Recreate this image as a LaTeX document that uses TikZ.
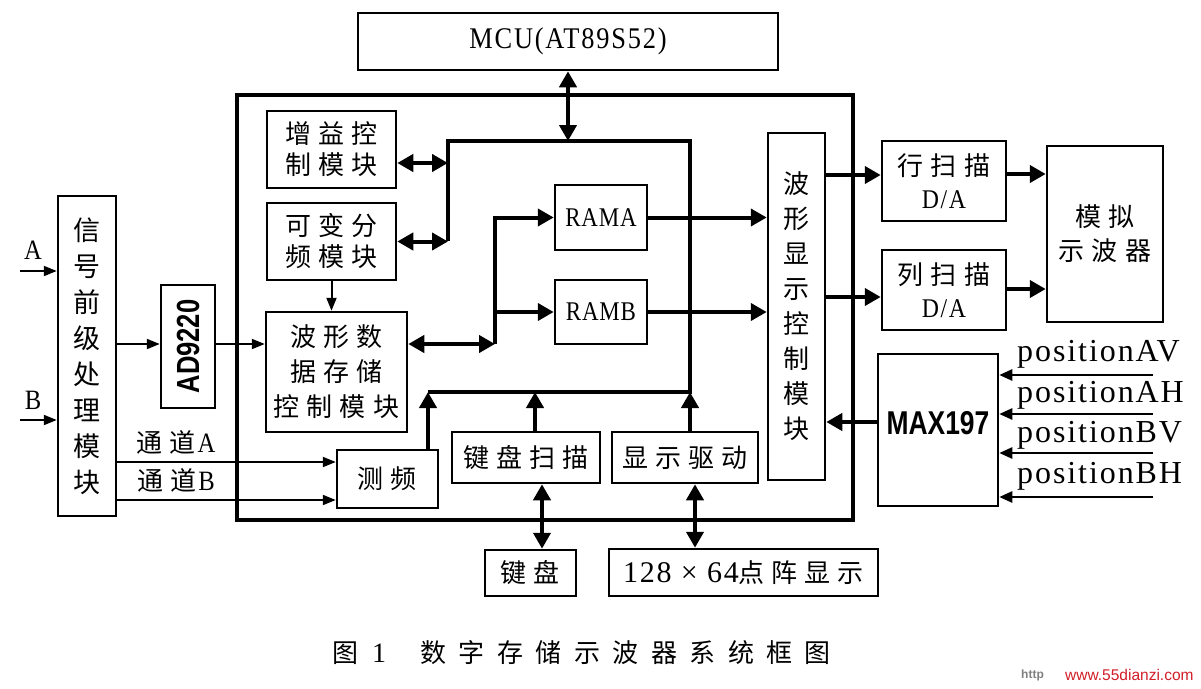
\documentclass[tikz,border=0pt]{standalone}
\usepackage{fontspec}
\setmainfont{Liberation Serif}
\usetikzlibrary{arrows.meta}
\newfontfamily\cjk[LetterSpace=27]{Noto Sans CJK SC}
\newfontfamily\cjkn{Noto Sans CJK SC}
\newfontfamily\cjkcap[LetterSpace=48]{Noto Sans CJK SC}
\newfontfamily\lser[FakeStretch=0.88,LetterSpace=6]{Liberation Serif}
\newfontfamily\rser[FakeStretch=0.85,LetterSpace=3]{Liberation Serif}
\newfontfamily\pser[LetterSpace=6]{Liberation Serif}
\newfontfamily\numf{Liberation Serif}
\newfontfamily\bsans[FakeStretch=0.8]{Liberation Sans}
\newfontfamily\wsans{Liberation Sans}
\newcommand\fsz[2]{\fontsize{#1}{#2}\selectfont}
\definecolor{wmred}{RGB}{210,30,40}
\begin{document}
\begin{tikzpicture}[x=1pt,y=-1pt,
  box/.style={draw, line width=2.5pt, inner sep=0pt, align=center},
  thickln/.style={line width=4pt},
  tarr/.style={line width=4pt, -{Triangle[length=16pt,width=17pt]}},
  darr/.style={line width=4pt, {Triangle[length=16pt,width=17pt]}-{Triangle[length=16pt,width=17pt]}},
  sarr/.style={line width=2pt, -{Triangle[length=13pt,width=10pt]}},
  parr/.style={line width=2.5pt, -{Triangle[length=13pt,width=11pt]}},
  cn/.style={font={\cjk\fsz{26}{31}}}]
\useasboundingbox (0,0) rectangle (1201,688);
\fill[white] (0,0) rectangle (1201,688);

% big frame
\node[draw, line width=4pt, inner sep=0pt, minimum width=616pt, minimum height=425pt] (big) at (545,307.5) {};

% blocks
\node[box, minimum width=420pt, minimum height=57pt, font={\lser\fsz{30}{34}}] (mcu) at (568,41.5) {MCU(AT89S52)};
\node[box, minimum width=129pt, minimum height=77pt, cn] (gain) at (331.5,149.5) {增益控\\制模块};
\node[box, minimum width=129pt, minimum height=77pt, cn] (div) at (331.5,241.5) {可变分\\频模块};
\node[box, minimum width=141pt, minimum height=120pt, font={\cjk\fsz{26}{35}}] (store) at (336.5,372) {波形数\\据存储\\控制模块};
\node[box, minimum width=92pt, minimum height=65pt, font={\rser\fsz{27}{30}}] (rama) at (601,217.5) {RAMA};
\node[box, minimum width=92pt, minimum height=64pt, font={\rser\fsz{27}{30}}] (ramb) at (601,312) {RAMB};
\node[box, minimum width=57pt, minimum height=347pt, font={\cjkn\fsz{26}{35}}] (disp) at (796.5,306.5) {波\\形\\显\\示\\控\\制\\模\\块};
\node[box, minimum width=124pt, minimum height=80pt, font={\cjk\fsz{26}{33}}] (hscan) at (944,181) {行扫描\\{\lser\fsz{27}{33}D/A}};
\node[box, minimum width=124pt, minimum height=80pt, font={\cjk\fsz{26}{33}}] (vscan) at (944,290) {列扫描\\{\lser\fsz{27}{33}D/A}};
\node[box, minimum width=116pt, minimum height=176pt, font={\cjk\fsz{26}{34}}] (osc) at (1105,234) {模拟\\示波器};
\node[box, minimum width=120pt, minimum height=152pt] (max) at (938,430) {};
\node[inner sep=0pt, font={\bsans\bfseries\fsz{33}{36}}] (maxl) at (938,423) {MAX197};
\node[box, minimum width=58pt, minimum height=320pt, font={\cjkn\fsz{27}{36}}] (sig) at (87,356) {信\\号\\前\\级\\处\\理\\模\\块};
\node[box, minimum width=54pt, minimum height=123pt] (ad) at (188,346.5) {};
\node[rotate=90, inner sep=0pt, font={\bsans\bfseries\fsz{32}{34}}] (adl) at (ad.center) {AD9220};
\node[box, minimum width=101pt, minimum height=58pt, cn] (freq) at (387.5,479) {测频};
\node[box, minimum width=148pt, minimum height=51pt, cn] (kbs) at (526,457.5) {键盘扫描};
\node[box, minimum width=146pt, minimum height=51pt, cn] (drv) at (685,457.5) {显示驱动};
\node[box, minimum width=91pt, minimum height=46pt, cn] (kb) at (530.5,573) {键盘};
\node[box, minimum width=269pt, minimum height=47pt, cn] (lcd) at (743.5,572.5) {{\pser\fsz{30}{31}128 × 64}点阵显示};

% labels
\node[font={\lser\fsz{28}{30}}] (la) at (33,250) {A};
\node[font={\lser\fsz{28}{30}}] (lb) at (33,400) {B};
\node[font={\cjk\fsz{26}{30}}] (lcha) at (176,442) {通道{\lser\fsz{28}{30}\hspace{2pt}A}};
\node[font={\cjk\fsz{26}{30}}] (lchb) at (176,480) {通道{\lser\fsz{28}{30}\hspace{2pt}B}};
\node[anchor=base west, inner sep=0pt, font={\pser\fsz{32}{34}}] (pav) at (1017,361) {positionAV};
\node[anchor=base west, inner sep=0pt, font={\pser\fsz{32}{34}}] (pah) at (1017,402) {positionAH};
\node[anchor=base west, inner sep=0pt, font={\pser\fsz{32}{34}}] (pbv) at (1017,442) {positionBV};
\node[anchor=base west, inner sep=0pt, font={\pser\fsz{32}{34}}] (pbh) at (1017,483) {positionBH};

% bus
\coordinate (bTL) at (448,141);
\coordinate (bTR) at (690,141);
\coordinate (bBR) at (690,392);
\coordinate (bL) at (448,241);
\coordinate (bLL) at (428,392);
\draw[thickln] (bL) -- (bTL) -- (bTR) -- (bBR) -- (bLL);
\draw[darr] (mcu.south) -- (mcu.south |- bTL);
\coordinate (gA) at (448,163);
\draw[darr] (gA -| gain.east) -- (gA);
\draw[darr] (div.east) -- (div.east -| bTL);
\draw[sarr] (div.south) -- (div.south |- store.north);

% store <-> RAM
\coordinate (jn) at (495,344);
\draw[darr] (jn -| store.east) -- (jn);
\draw[tarr] (jn) -- (jn |- rama.west) -- (rama.west);
\draw[tarr] (jn |- ramb.west) -- (ramb.west);
\draw[tarr] (rama.east) -- (rama.east -| disp.west);
\draw[tarr] (ramb.east) -- (ramb.east -| disp.west);

% right side
\coordinate (hy) at (0,175);
\coordinate (vy) at (0,297);
\coordinate (hy2) at (0,174);
\coordinate (vy2) at (0,289);
\coordinate (my) at (0,422);
\draw[tarr] (disp.east |- hy) -- (hscan.west |- hy);
\draw[tarr] (disp.east |- vy) -- (vscan.west |- vy);
\draw[tarr] (hscan.east |- hy2) -- (osc.west |- hy2);
\draw[tarr] (vscan.east |- vy2) -- (osc.west |- vy2);
\draw[tarr] (max.west |- my) -- (disp.east |- my);
\coordinate (p1) at (1153,375);
\coordinate (p2) at (1153,414);
\coordinate (p3) at (1153,453);
\coordinate (p4) at (1153,497);
\draw[parr] (p1) -- (p1 -| max.east);
\draw[parr] (p2) -- (p2 -| max.east);
\draw[parr] (p3) -- (p3 -| max.east);
\draw[parr] (p4) -- (p4 -| max.east);

% left side
\coordinate (inA) at (20,271);
\coordinate (inB) at (20,420);
\draw[sarr] (inA) -- (inA -| sig.west);
\draw[sarr] (inB) -- (inB -| sig.west);
\coordinate (ady) at (0,344);
\draw[sarr] (sig.east |- ady) -- (ad.west |- ady);
\draw[sarr] (ad.east |- ady) -- (store.west |- ady);
\coordinate (cha) at (0,462);
\coordinate (chb) at (0,500);
\draw[sarr] (sig.east |- cha) -- (freq.west |- cha);
\draw[sarr] (sig.east |- chb) -- (freq.west |- chb);

% lower bus inputs
\coordinate (kx) at (535,392);
\draw[tarr] (bLL |- freq.north) -- (bLL);
\draw[tarr] (kx |- kbs.north) -- (kx);
\draw[tarr] (bBR |- drv.north) -- (bBR);
\coordinate (kdx) at (542,0);
\coordinate (ldx) at (695,0);
\draw[darr] (kdx |- kbs.south) -- (kdx |- kb.north);
\draw[darr] (ldx |- drv.south) -- (ldx |- lcd.north);

% caption
\node[anchor=west, inner sep=0pt, font={\cjkn\fsz{26}{30}}] (capa) at (332,653) {图};
\node[anchor=west, inner sep=0pt, font={\numf\fsz{28}{30}}] (capb) at (372,653) {1};
\node[anchor=west, inner sep=0pt, font={\cjkcap\fsz{26}{30}}] (capc) at (420,653) {数字存储示波器系统框图};
\node[anchor=west, inner sep=0pt, text=gray, font={\wsans\bfseries\fsz{12}{14}}] (wm1) at (1021,675) {http};
\node[anchor=west, inner sep=0pt, text=wmred, font={\wsans\fsz{15.5}{17}}] (wm2) at (1065,675) {www.55dianzi.com};
\end{tikzpicture}
\end{document}
